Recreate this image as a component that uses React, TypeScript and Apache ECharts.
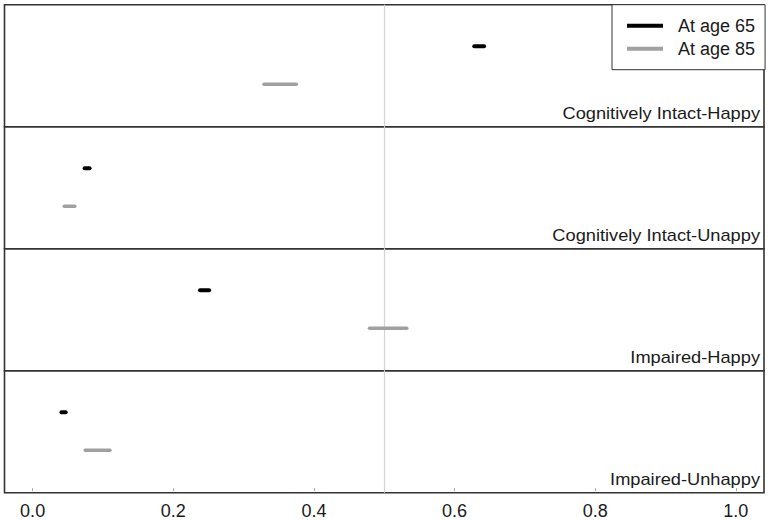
import React, { useEffect, useRef } from "react";
import * as echarts from "echarts";

const xTicks = [0, 0.2, 0.4, 0.6, 0.8, 1.0];
const panels = [
  "Cognitively Intact-Happy",
  "Cognitively Intact-Unappy",
  "Impaired-Happy",
  "Impaired-Unhappy",
];
const age65Low = [0.628, 0.074, 0.238, 0.041];
const age65High = [0.642, 0.081, 0.251, 0.047];
const age85Low = [0.329, 0.045, 0.479, 0.075];
const age85High = [0.375, 0.06, 0.532, 0.11];
const seriesNames = ["At age 65", "At age 85"];
const refLine = 0.5;

const FONT = "Liberation Sans, Arial, sans-serif";
const TOP = 4.7;
const PANEL_H = 122;
const LEFT = 4.5;
const RIGHT = 8;
const W = 772;

export default function App() {
  const ref = useRef<HTMLDivElement>(null);
  useEffect(() => {
    if (!ref.current) return;
    const chart = echarts.init(ref.current, null, { renderer: "svg" });
    const grids: any[] = [];
    const xAxes: any[] = [];
    const yAxes: any[] = [];
    const series: any[] = [];
    const graphics: any[] = [];
    panels.forEach((name, i) => {
      const top = TOP + i * PANEL_H;
      const last = i === panels.length - 1;
      grids.push({
        left: LEFT,
        right: RIGHT,
        top,
        height: PANEL_H,
        show: true,
        borderColor: "#333",
        borderWidth: 1.6,
        backgroundColor: "transparent",
      });
      xAxes.push({
        type: "value",
        gridIndex: i,
        min: -0.04,
        max: 1.04,
        show: true,
        splitLine: { show: false },
        axisLine: { show: false },
        axisTick: last
          ? { show: true, length: 3, lineStyle: { color: "#aaa" }, customValues: xTicks }
          : { show: false },
        axisLabel: last
          ? {
              show: true,
              customValues: xTicks,
              margin: 9,
              fontSize: 18,
              fontFamily: FONT,
              color: "#1a1a1a",
              formatter: (v: number) => v.toFixed(1),
            }
          : { show: false },
      });
      yAxes.push({
        type: "value",
        gridIndex: i,
        min: -0.12,
        max: 3.09,
        show: false,
      });
      series.push({
        type: "line",
        name: seriesNames[0],
        xAxisIndex: i,
        yAxisIndex: i,
        data: [
          [age65Low[i], 2],
          [age65High[i], 2],
        ],
        symbol: "none",
        color: "#000",
        lineStyle: { color: "#000", width: 4, cap: "round" },
        emphasis: { disabled: true },
        silent: true,
        z: 3,
      });
      series.push({
        type: "line",
        name: seriesNames[1],
        xAxisIndex: i,
        yAxisIndex: i,
        data: [
          [age85Low[i], 1],
          [age85High[i], 1],
        ],
        symbol: "none",
        color: "#a0a0a0",
        lineStyle: { color: "#a0a0a0", width: 3.5, cap: "round" },
        emphasis: { disabled: true },
        silent: true,
        z: 3,
        markLine: {
          silent: true,
          symbol: "none",
          label: { show: false },
          lineStyle: { color: "#d4d4d4", width: 1.2, type: "solid" },
          emphasis: { disabled: true },
          data: [{ xAxis: refLine }],
          z: 1,
        },
      });
      graphics.push({
        type: "text",
        x: W - RIGHT - 4,
        y: top + PANEL_H - 13.5,
        scaleX: 1.14,
        style: {
          text: name,
          fontSize: 16,
          fontFamily: FONT,
          fill: "#1a1a1a",
          textAlign: "right",
          textVerticalAlign: "middle",
        },
        silent: true,
        z: 10,
      });
    });

    chart.setOption({
      animation: false,
      backgroundColor: "#fff",
      grid: grids,
      xAxis: xAxes,
      yAxis: yAxes,
      series,
      graphic: graphics,
      legend: {
        orient: "vertical",
        left: 612,
        top: TOP,
        padding: [11, 10, 11, 15],
        itemWidth: 36,
        itemHeight: 4,
        itemGap: 3,
        borderColor: "#333",
        borderWidth: 1,
        backgroundColor: "#fff",
        selectedMode: false,
        textStyle: {
          fontSize: 18,
          fontFamily: FONT,
          color: "#1a1a1a",
          lineHeight: 20,
          padding: [0, 0, 0, 10],
        },
        data: [
          { name: seriesNames[0], icon: "rect", itemStyle: { color: "#000" } },
          { name: seriesNames[1], icon: "rect", itemStyle: { color: "#a0a0a0" } },
        ],
      },
    });
    return () => chart.dispose();
  }, []);
  return (
    <div
      ref={ref}
      style={{ position: "absolute", left: 0, top: 0, width: 772, height: 520 }}
    />
  );
}
